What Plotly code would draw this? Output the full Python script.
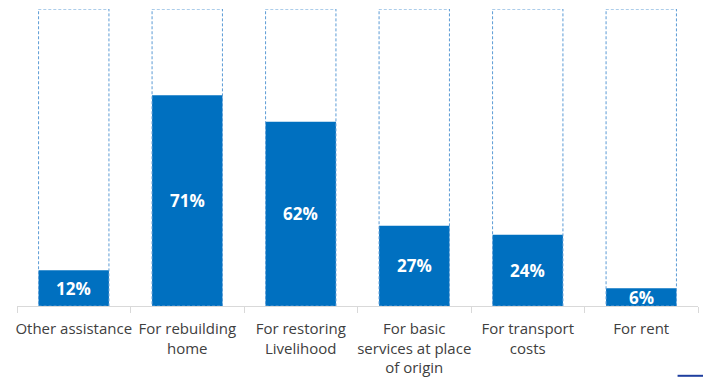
import plotly.graph_objects as go

categories = [
    "Other assistance",
    "For rebuilding<br>home",
    "For restoring<br>Livelihood",
    "For basic<br>services at place<br>of origin",
    "For transport<br>costs",
    "For rent",
]
values = [12, 71, 62, 27, 24, 6]
full_scale = 100

BAR_BLUE = "#0070C0"
OUTLINE_BLUE = "#5B9BD5"
BAR_WIDTH = 0.62

fig = go.Figure()

fig.add_trace(go.Bar(
    x=categories,
    y=values,
    width=BAR_WIDTH,
    marker=dict(color=BAR_BLUE, line=dict(width=0)),
    hoverinfo="skip",
))

# dashed outline showing the 100% capacity of each column
for i, _ in enumerate(categories):
    fig.add_shape(
        type="rect", xref="x", yref="y",
        x0=i - BAR_WIDTH / 2, x1=i + BAR_WIDTH / 2,
        y0=0, y1=full_scale,
        line=dict(color=OUTLINE_BLUE, width=1, dash="3px,2px"),
        fillcolor="rgba(0,0,0,0)", layer="above",
    )

# value labels centred in the filled part
for cat, v in zip(categories, values):
    fig.add_annotation(
        x=cat, y=v / 2, xref="x", yref="y",
        text=f"<b>{v}%</b>", showarrow=False,
        font=dict(family="Open Sans", size=17, color="white"),
    )

# small accent line in the lower-right corner
fig.add_shape(
    type="line", xref="paper", yref="paper",
    x0=0.97, x1=1.008, y0=-0.235, y1=-0.235,
    line=dict(color="#1F3F9F", width=2),
)

fig.update_layout(
    width=703, height=378,
    margin=dict(l=17, r=5, t=9, b=72),
    paper_bgcolor="white", plot_bgcolor="white",
    showlegend=False, bargap=0.38,
    font=dict(family="Open Sans", size=14, color="#404040"),
)
fig.update_xaxes(
    type="category", showline=True, linecolor="#D9D9D9", linewidth=1,
    ticks="outside", tickson="boundaries", ticklen=6, tickcolor="#D9D9D9",
    showgrid=False, tickangle=0, automargin=False, ticklabelstandoff=9,
    tickfont=dict(size=15, color="#404040"),
)
fig.update_yaxes(range=[0, full_scale], visible=False, showgrid=False)

fig.write_html("out.html")
